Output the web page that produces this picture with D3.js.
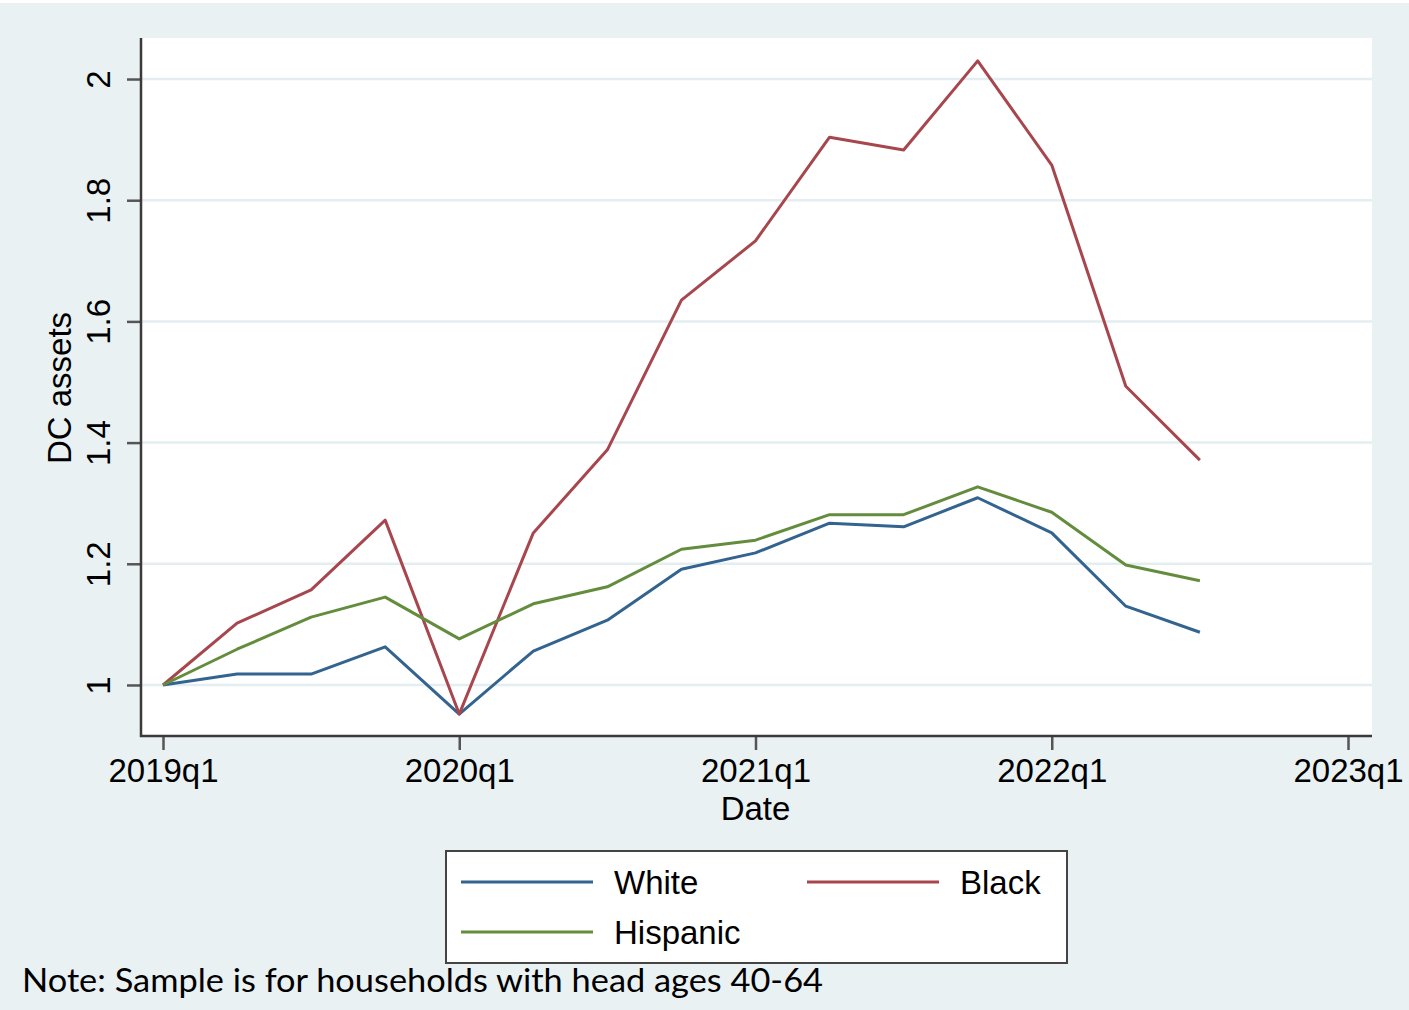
<!DOCTYPE html>
<html>
<head>
<meta charset="utf-8">
<script src="https://cdn.jsdelivr.net/npm/d3@7"></script>
<style>
  body { margin: 0; background: #ffffff; }
  svg { display: block; }
</style>
</head>
<body>
<div id="chart"></div>
<script>
// quarters since 2019q1
const quarters = ["2019q1","2019q2","2019q3","2019q4","2020q1","2020q2","2020q3","2020q4",
  "2021q1","2021q2","2021q3","2021q4","2022q1","2022q2","2022q3"];

const whiteVals = [1.000, 1.018, 1.018, 1.063, 0.952, 1.056, 1.107, 1.191, 1.218, 1.267, 1.261, 1.309, 1.251, 1.130, 1.087];
const blackVals = [1.000, 1.102, 1.157, 1.272, 0.952, 1.251, 1.388, 1.635, 1.733, 1.904, 1.883, 2.030, 1.858, 1.493, 1.371];
const hispVals  = [1.000, 1.059, 1.112, 1.145, 1.076, 1.134, 1.162, 1.224, 1.239, 1.281, 1.281, 1.327, 1.285, 1.198, 1.172];

const seriesNames = ["White", "Black", "Hispanic"];
const yTicks = [1, 1.2, 1.4, 1.6, 1.8, 2];
const xTickIdx = [0, 4, 8, 12, 16];
const xTickLabels = ["2019q1", "2020q1", "2021q1", "2022q1", "2023q1"];

function renderChart() {
  const width = 1409, height = 1010;
  const bgColor = "#e9f1f3";
  const gridColor = "#e4eef0";
  const axisColor = "#3a3a3a";
  const colors = { White: "#33638f", Black: "#a8464e", Hispanic: "#638d3d" };
  const font = "Arial, 'Liberation Sans', sans-serif";

  const plot = { left: 141, right: 1372, top: 38, bottom: 736 };

  const svg = d3.select("#chart")
    .append("svg")
    .attr("width", width)
    .attr("height", height);

  svg.append("rect")
    .attr("x", 0).attr("y", 3)
    .attr("width", width).attr("height", height - 3)
    .attr("fill", bgColor);

  svg.append("rect")
    .attr("x", plot.left).attr("y", plot.top)
    .attr("width", plot.right - plot.left)
    .attr("height", plot.bottom - plot.top)
    .attr("fill", "#ffffff");

  const x = d3.scaleLinear().domain([-0.297, 16.324]).range([plot.left, plot.right]);
  const y = d3.scaleLinear().domain([0.9158, 2.0677]).range([plot.bottom, plot.top]);

  // gridlines
  svg.append("g")
    .selectAll("line")
    .data(yTicks)
    .enter()
    .append("line")
    .attr("x1", plot.left).attr("x2", plot.right)
    .attr("y1", d => y(d)).attr("y2", d => y(d))
    .attr("stroke", gridColor)
    .attr("stroke-width", 2.5);

  // y axis
  const yAxis = svg.append("g")
    .attr("transform", `translate(${plot.left},0)`)
    .call(d3.axisLeft(y).tickValues(yTicks).tickSize(14).tickFormat(d => String(+d.toFixed(1))));
  yAxis.attr("font-family", font);
  yAxis.select(".domain").remove();
  yAxis.selectAll(".tick line").attr("stroke", "#555").attr("stroke-width", 2.5);
  yAxis.selectAll(".tick text")
    .attr("x", 0).attr("dy", 0)
    .attr("transform", "translate(-31,0) rotate(-90)")
    .attr("text-anchor", "middle")
    .attr("font-family", font)
    .attr("font-size", "33px")
    .attr("fill", "#000");

  // x axis
  const xAxis = svg.append("g")
    .attr("transform", `translate(0,${plot.bottom})`)
    .call(d3.axisBottom(x).tickValues(xTickIdx).tickSize(14).tickFormat((d, i) => xTickLabels[i]));
  xAxis.attr("font-family", font);
  xAxis.select(".domain").remove();
  xAxis.selectAll(".tick line").attr("stroke", "#555").attr("stroke-width", 2.5);
  xAxis.selectAll(".tick text")
    .attr("y", 46).attr("dy", 0)
    .attr("font-family", font)
    .attr("font-size", "33px")
    .attr("fill", "#000");

  // axis lines
  svg.append("line")
    .attr("x1", plot.left).attr("x2", plot.left)
    .attr("y1", plot.top).attr("y2", plot.bottom + 1)
    .attr("stroke", axisColor).attr("stroke-width", 2.5);
  svg.append("line")
    .attr("x1", plot.left - 1).attr("x2", plot.right)
    .attr("y1", plot.bottom).attr("y2", plot.bottom)
    .attr("stroke", axisColor).attr("stroke-width", 2.5);

  // axis titles
  svg.append("text")
    .attr("transform", "translate(71,388) rotate(-90)")
    .attr("text-anchor", "middle")
    .attr("font-family", font).attr("font-size", "33px")
    .text("DC assets");
  svg.append("text")
    .attr("x", x(8)).attr("y", 820)
    .attr("text-anchor", "middle")
    .attr("font-family", font).attr("font-size", "33px")
    .text("Date");

  // lines
  const line = d3.line().x((d, i) => x(i)).y(d => y(d));
  const series = [
    { name: "White", values: whiteVals },
    { name: "Black", values: blackVals },
    { name: "Hispanic", values: hispVals }
  ];
  svg.append("g")
    .selectAll("path")
    .data(series)
    .enter()
    .append("path")
    .attr("d", d => line(d.values))
    .attr("fill", "none")
    .attr("stroke", d => colors[d.name])
    .attr("stroke-width", 3)
    .attr("stroke-linejoin", "round");

  // legend
  const legend = svg.append("g");
  legend.append("rect")
    .attr("x", 446).attr("y", 851)
    .attr("width", 621).attr("height", 112)
    .attr("fill", "#ffffff")
    .attr("stroke", "#444").attr("stroke-width", 2);

  const legendPos = {
    White: { x: 461, y: 882 },
    Black: { x: 807, y: 882 },
    Hispanic: { x: 461, y: 932 }
  };
  seriesNames.forEach(name => {
    const p = legendPos[name];
    legend.append("line")
      .attr("x1", p.x).attr("x2", p.x + 132)
      .attr("y1", p.y).attr("y2", p.y)
      .attr("stroke", colors[name]).attr("stroke-width", 3);
    legend.append("text")
      .attr("x", p.x + 153).attr("y", p.y + 12)
      .attr("font-family", font).attr("font-size", "33px")
      .text(name);
  });

  // note
  svg.append("text")
    .attr("x", 22).attr("y", 992)
    .attr("font-family", "Lato, 'Open Sans', sans-serif")
    .attr("font-size", "32px")
    .attr("textLength", 801)
    .attr("lengthAdjust", "spacingAndGlyphs")
    .text("Note: Sample is for households with head ages 40-64");
}

renderChart();
</script>
</body>
</html>
